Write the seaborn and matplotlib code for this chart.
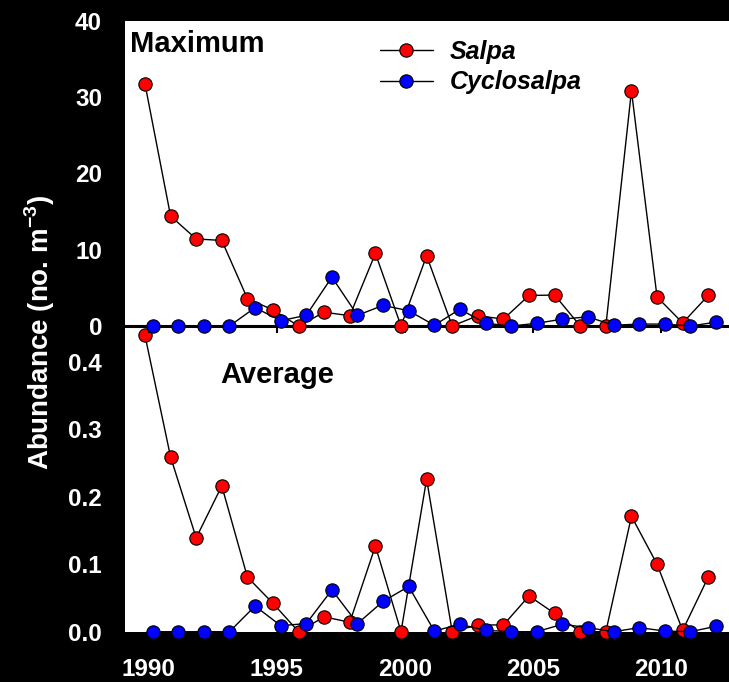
import matplotlib
matplotlib.use('Agg')
import matplotlib.pyplot as plt
import seaborn as sns
import pandas as pd

# ---- data ----
years = list(range(1990, 2013))
salpa_max = [31.7, 14.4, 11.4, 11.2, 3.6, 2.1, 0.0, 1.8, 1.35, 9.5, 0.0, 9.2,
             0.0, 1.35, 0.9, 4.0, 4.05, 0.0, 0.0, 30.8, 3.8, 0.4, 4.0]
cyclo_max = [0.0, 0.0, 0.0, 0.0, 2.4, 0.7, 1.4, 6.4, 1.4, 2.7, 2.0, 0.1,
             2.2, 0.35, 0.0, 0.35, 0.9, 1.2, 0.1, 0.25, 0.25, 0.0, 0.5]
salpa_avg = [0.439, 0.259, 0.139, 0.216, 0.081, 0.042, 0.0, 0.022, 0.014, 0.127, 0.0, 0.226,
             0.0, 0.010, 0.010, 0.053, 0.027, 0.0, 0.0, 0.171, 0.100, 0.002, 0.081]
cyclo_avg = [0.0, 0.0, 0.0, 0.0, 0.038, 0.009, 0.012, 0.062, 0.012, 0.045, 0.067, 0.001,
             0.011, 0.002, 0.0, 0.0, 0.011, 0.006, 0.0, 0.006, 0.001, 0.0, 0.008]
series_names = ['Salpa', 'Cyclosalpa']
series_colors = ['#ff0000', '#0000ff']
x_ticks = [1990, 1995, 2000, 2005, 2010]
top_ticks = [0, 10, 20, 30, 40]
bot_ticks = [0.0, 0.1, 0.2, 0.3, 0.4]

sns.set_theme(style='white')
plt.rcParams['font.family'] = ['Liberation Sans', 'DejaVu Sans']
plt.rcParams['text.color'] = 'black'
plt.rcParams['mathtext.fontset'] = 'custom'
plt.rcParams['mathtext.rm'] = 'Liberation Sans'
plt.rcParams['mathtext.bf'] = 'Liberation Sans:bold'

W, H = 729, 682
fig = plt.figure(figsize=(W / 100, H / 100), dpi=100, facecolor='black')

left_px, right_px = 125, 729
top_px, mid_px, bot_px = 20.5, 326, 631.7
ax_top = fig.add_axes([left_px / W, (H - mid_px) / H, (right_px - left_px) / W, (mid_px - top_px) / H])
ax_bot = fig.add_axes([left_px / W, (H - bot_px) / H, (right_px - left_px) / W, (bot_px - mid_px) / H])
ax_top.set_zorder(2)
ax_bot.set_zorder(1)

offsets = [-0.15, 0.15]
df_top = pd.DataFrame({'year': years, 'Salpa': salpa_max, 'Cyclosalpa': cyclo_max})
df_bot = pd.DataFrame({'year': years, 'Salpa': salpa_avg, 'Cyclosalpa': cyclo_avg})

for ax, df in [(ax_top, df_top), (ax_bot, df_bot)]:
    ax.set_facecolor('white')
    for i, (name, col) in enumerate(zip(series_names, series_colors)):
        sns.lineplot(x=df['year'] + offsets[i], y=df[name], ax=ax, color='black',
                     linewidth=1.0, marker='o', markersize=9.6, markerfacecolor=col,
                     markeredgecolor='black', markeredgewidth=0.8, clip_on=False,
                     zorder=5 + i, label=name, legend=False)
    ax.set_xlim(1989.07, 2012.66)
    ax.set_xlabel('')
    ax.set_ylabel('')
    for s in ['left', 'right', 'top', 'bottom']:
        ax.spines[s].set_visible(False)
    ax.set_xticks(x_ticks)

# top panel
ax_top.set_ylim(0, 40)
ax_top.set_yticks(top_ticks)
ax_top.set_yticklabels([str(t) for t in top_ticks])
ax_top.spines['bottom'].set_visible(True)
ax_top.spines['bottom'].set_color('black')
ax_top.spines['bottom'].set_linewidth(2.2)
ax_top.spines['bottom'].set_zorder(4)
ax_top.tick_params(axis='x', direction='out', length=5, width=1.5, color='black',
                   labelbottom=False, bottom=True)
ax_top.tick_params(axis='y', length=0, pad=16.5, labelsize=17.5, labelcolor='white')

# bottom panel
ax_bot.set_ylim(0, 0.453)
ax_bot.set_yticks(bot_ticks)
ax_bot.set_yticklabels([f'{t:.1f}' for t in bot_ticks])
ax_bot.tick_params(axis='y', length=0, pad=16.5, labelsize=17.5, labelcolor='white')
ax_bot.tick_params(axis='x', length=0, pad=19, labelsize=17.5, labelcolor='white')

for ax in (ax_top, ax_bot):
    for lab in ax.get_xticklabels() + ax.get_yticklabels():
        lab.set_fontweight('bold')

# panel titles
fig.text(130 / W, 1 - 44 / H, 'Maximum', ha='left', va='center', fontsize=21,
         fontweight='bold', color='black')
fig.text(220.6 / W, 1 - 375 / H, 'Average', ha='left', va='center', fontsize=21,
         fontweight='bold', color='black')

# y label
fig.text(40 / W, 1 - 332 / H, r'Abundance (no. m$^{\mathbf{-3}}$)', rotation=90,
         ha='center', va='center', fontsize=20, fontweight='bold', color='white')

# legend
handles, labels = ax_top.get_legend_handles_labels()
leg = fig.legend(handles, labels, loc='center left', bbox_to_anchor=(380 / W, 1 - 67.2 / H),
                 borderpad=0, borderaxespad=0, handlelength=2.1, handletextpad=0.7,
                 labelspacing=0.25, frameon=False,
                 prop=dict(family='Liberation Sans', weight='bold', style='italic', size=18))
for t in leg.get_texts():
    t.set_color('black')

fig.savefig('out.png', dpi=100, facecolor='black')
